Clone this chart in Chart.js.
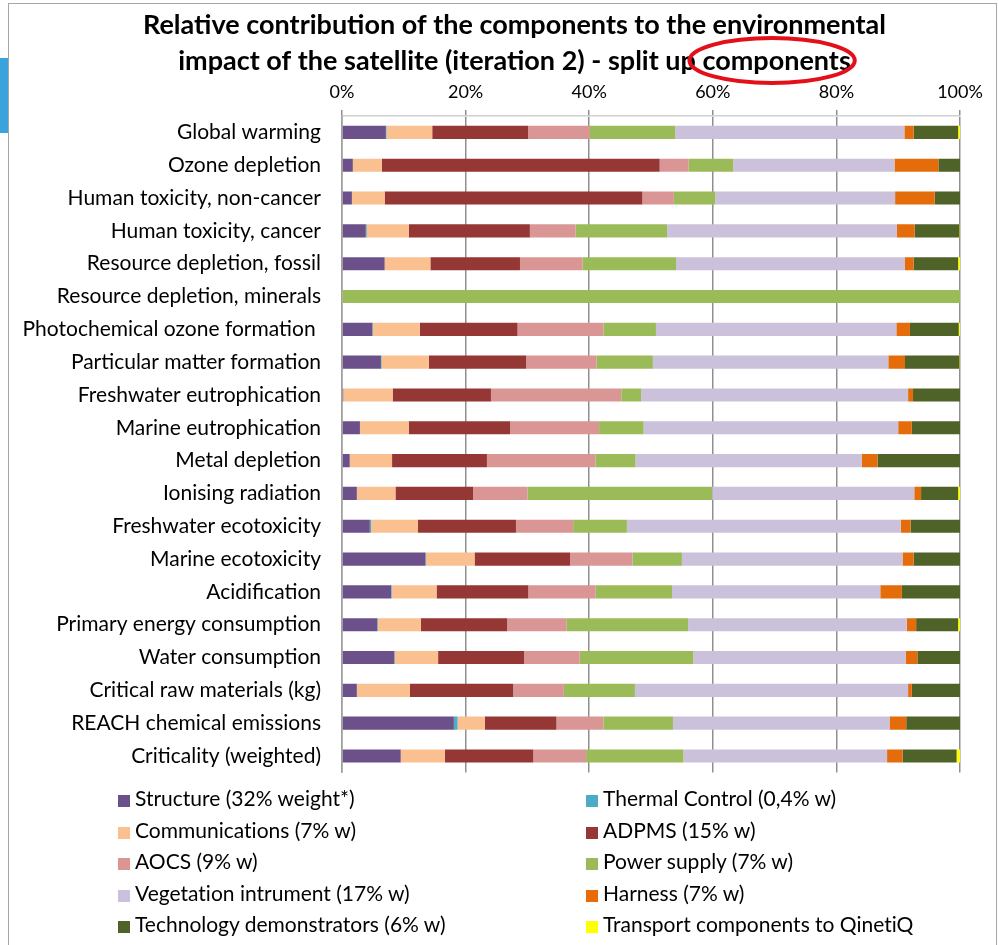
<!DOCTYPE html>
<html>
<head>
<meta charset="utf-8">
<script src="https://cdn.jsdelivr.net/npm/chart.js@4/dist/chart.umd.min.js"></script>
<style>
  html, body { margin: 0; padding: 0; background: #fff; }
  body { width: 999px; height: 945px; position: relative; overflow: hidden; font-family: Lato, "Liberation Sans", sans-serif; }
  #frame { position: absolute; left: 8px; top: 3px; width: 989px; height: 980px; border: 1px solid #a6a6a6; box-sizing: border-box; }
  #tab { position: absolute; left: 0; top: 58px; width: 8px; height: 75px; background: #3aa3dc; }
  #wrap { position: absolute; left: 0; top: 0; width: 999px; height: 806px; }
  #legend { position: absolute; left: 0; top: 0; width: 999px; height: 945px; pointer-events: none; }
  .item { position: absolute; height: 30px; line-height: 30px; font-size: 21px; color: #000; white-space: nowrap; font-variant-ligatures: none; }
  .box { display: inline-block; width: 12px; height: 12px; margin-right: 5px; vertical-align: -1px; }
</style>
</head>
<body>
<div id="frame"></div>
<div id="tab"></div>
<div id="wrap"><canvas id="c" width="999" height="806"></canvas></div>
<div id="legend"></div>
<script>
// Impact categories (top to bottom)
const categories = [
  "Global warming", "Ozone depletion", "Human toxicity, non-cancer", "Human toxicity, cancer",
  "Resource depletion, fossil", "Resource depletion, minerals", "Photochemical ozone formation ",
  "Particular matter formation", "Freshwater eutrophication", "Marine eutrophication",
  "Metal depletion", "Ionising radiation", "Freshwater ecotoxicity", "Marine ecotoxicity",
  "Acidification", "Primary energy consumption", "Water consumption",
  "Critical raw materials (kg)", "REACH chemical emissions", "Criticality (weighted)"
];

// Share of each component per impact category (%)
const structure      = [7.1, 1.75, 1.6, 3.85, 6.9, 0, 4.9, 6.3, 0.2, 2.9, 1.25, 2.4, 4.5, 13.5, 7.95, 5.7, 8.45, 2.4, 18.1, 9.5];
const thermalControl = [0.1, 0, 0, 0.15, 0, 0, 0.1, 0.1, 0, 0, 0, 0, 0.2, 0.1, 0.1, 0.1, 0.1, 0, 0.6, 0];
const communications = [7.4, 4.7, 5.3, 6.8, 7.4, 0, 7.6, 7.65, 8.0, 7.9, 6.85, 6.25, 7.6, 7.85, 7.25, 6.95, 7.0, 8.6, 4.4, 7.15];
const adpms          = [15.5, 44.95, 41.7, 19.6, 14.5, 0, 15.8, 15.75, 15.9, 16.4, 15.35, 12.55, 15.85, 15.45, 14.85, 13.95, 13.9, 16.7, 11.6, 14.3];
const aocs           = [10.0, 4.7, 5.1, 7.4, 10.1, 0, 13.9, 11.4, 21.1, 14.4, 17.55, 8.8, 9.25, 10.1, 10.9, 9.6, 9.0, 8.2, 7.6, 8.55];
const powerSupply    = [13.8, 7.2, 6.7, 14.8, 15.15, 100, 8.5, 9.1, 3.2, 7.2, 6.5, 29.9, 8.7, 8.0, 12.35, 19.7, 18.4, 11.5, 11.25, 15.75];
const vegetation     = [37.1, 26.1, 29.1, 37.2, 37.05, 0, 38.9, 38.1, 43.2, 41.2, 36.6, 32.7, 44.3, 35.7, 33.7, 35.4, 34.35, 44.2, 35.05, 32.95];
const harness        = [1.5, 7.1, 6.4, 2.85, 1.4, 0, 2.2, 2.7, 0.8, 2.2, 2.55, 1.1, 1.6, 1.8, 3.5, 1.5, 1.9, 0.6, 2.7, 2.5];
const techDemo       = [7.2, 3.5, 4.1, 7.25, 7.2, 0, 7.9, 8.8, 7.6, 7.8, 13.35, 6.0, 8.0, 7.5, 9.4, 6.8, 6.9, 7.8, 8.7, 8.75];
const transport      = [0.3, 0, 0, 0.1, 0.3, 0, 0.2, 0.1, 0, 0, 0, 0.3, 0, 0, 0, 0.3, 0, 0, 0, 0.55];

// Axis tick values (%)
const xTicks = [0, 20, 40, 60, 80, 100];

const seriesNames = [
  "Structure (32% weight*)", "Thermal Control (0,4% w)", "Communications (7% w)", "ADPMS (15% w)",
  "AOCS (9% w)", "Power supply (7% w)", "Vegetation intrument (17% w)", "Harness (7% w)",
  "Technology demonstrators (6% w)", "Transport components to QinetiQ"
];
const seriesValues = [structure, thermalControl, communications, adpms, aocs, powerSupply, vegetation, harness, techDemo, transport];
const seriesColors = ["#6b5089", "#4bacc6", "#fac090", "#953735", "#d99694", "#9bbb59", "#ccc1da", "#e46c0a", "#4f6228", "#ffff00"];

const FONT = "Lato, 'Liberation Sans', sans-serif";
const titleLines = [
  "Relative contribution of the components to the environmental",
  "impact of the satellite (iteration 2) - split up components"
];
const TITLE_SIZE = 27, TITLE_LINE = 36, TITLE_PAD_TOP = 7;
const PLOT_TOP = 116, PLOT_LEFT = 342;
// Horizontal span the title is centred in
const TITLE_LEFT = 30, TITLE_RIGHT = 999;

// Centre the title over its own span and ring the last word of line two
const titlePlugin = {
  id: "titleRing",
  afterLayout(chart) {
    const tb = chart.titleBlock;
    if (!tb) return;
    tb.left = TITLE_LEFT;
    tb.right = TITLE_RIGHT;
    tb.width = TITLE_RIGHT - TITLE_LEFT;
  },
  afterDraw(chart) {
    const tb = chart.titleBlock;
    if (!tb) return;
    const ctx = chart.ctx;
    ctx.save();
    ctx.font = "bold " + TITLE_SIZE + "px " + FONT;
    const line = titleLines[1];
    const word = "components";
    const full = ctx.measureText(line).width;
    const pre = ctx.measureText(line.slice(0, line.lastIndexOf(word))).width;
    const w = ctx.measureText(word).width;
    const cx0 = (tb.left + tb.right) / 2;
    const wordCenter = cx0 - full / 2 + pre + w / 2;
    const cy = tb.top + TITLE_PAD_TOP + TITLE_LINE * 1.5;
    ctx.beginPath();
    ctx.ellipse(wordCenter - 4.5, cy - 0.5, w / 2 + 8.5, 22.5, 0, 0, Math.PI * 2);
    ctx.strokeStyle = "#e3101a";
    ctx.lineWidth = 4;
    ctx.stroke();
    ctx.restore();
  }
};

const chart = new Chart(document.getElementById("c"), {
  type: "bar",
  data: {
    labels: categories,
    datasets: seriesNames.map((name, i) => ({
      label: name,
      data: seriesValues[i],
      backgroundColor: seriesColors[i],
      borderWidth: 0,
      barPercentage: 0.4,
      categoryPercentage: 1.0
    }))
  },
  options: {
    responsive: false,
    animation: false,
    indexAxis: "y",
    layout: { padding: { left: 0, right: 39, top: 0, bottom: 12 } },
    plugins: {
      legend: { display: false },
      tooltip: { enabled: false },
      title: {
        display: true,
        text: titleLines,
        color: "#000",
        font: { family: FONT, size: TITLE_SIZE, weight: "bold", lineHeight: TITLE_LINE + "px" },
        padding: { top: TITLE_PAD_TOP, bottom: 0 }
      }
    },
    scales: {
      x: {
        stacked: true,
        position: "top",
        min: 0,
        max: 100,
        afterBuildTicks: (s) => { s.ticks = xTicks.map(v => ({ value: v })); },
        afterFit: (s) => {
          const th = s.chart.titleBlock ? s.chart.titleBlock.height : TITLE_PAD_TOP + 2 * TITLE_LINE;
          s.height = PLOT_TOP - th;
        },
        ticks: {
          callback: (v) => v + "%",
          color: "#000",
          font: { family: FONT, size: 18 },
          padding: 7,
          maxRotation: 0
        },
        grid: { color: "#8f8f8f", lineWidth: 1.5, tickLength: 6, drawTicks: true },
        border: { display: true, color: "#d0d0d0", width: 1.5 }
      },
      y: {
        stacked: true,
        afterFit: (s) => { s.width = PLOT_LEFT; },
        ticks: { color: "#000", font: { family: FONT, size: 21 }, padding: 21 },
        grid: { display: false, drawTicks: false },
        border: { display: true, color: "#a0a0a0", width: 1.5 }
      }
    }
  },
  plugins: [titlePlugin]
});

// Two-column legend below the plot, built from the chart's datasets
const legend = document.getElementById("legend");
chart.data.datasets.forEach((ds, i) => {
  const col = i % 2, row = Math.floor(i / 2);
  const el = document.createElement("div");
  el.className = "item";
  el.style.left = (col === 0 ? 118 : 586) + "px";
  el.style.top = (798 + row * 31.5 - 15) + "px";
  const box = document.createElement("span");
  box.className = "box";
  box.style.background = ds.backgroundColor;
  el.appendChild(box);
  el.appendChild(document.createTextNode(ds.label));
  legend.appendChild(el);
});
</script>
</body>
</html>
